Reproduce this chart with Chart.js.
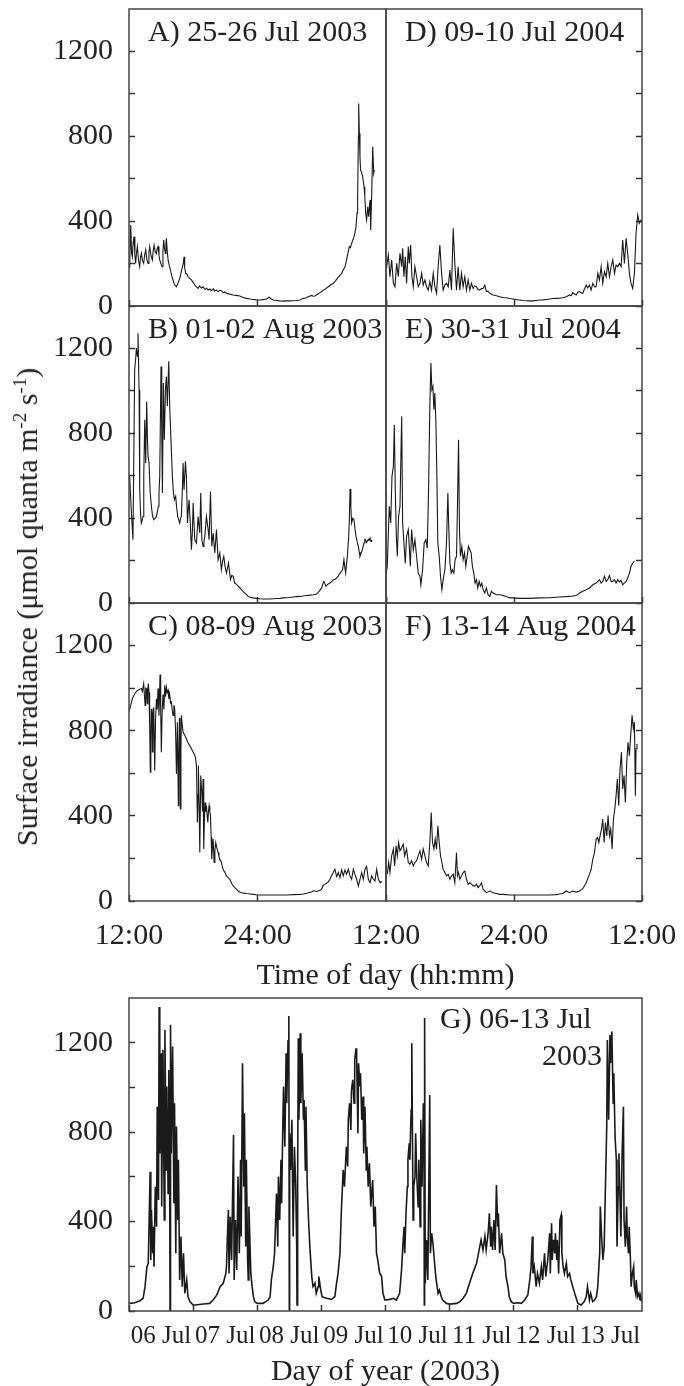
<!DOCTYPE html>
<html><head><meta charset="utf-8">
<script src="https://cdn.jsdelivr.net/npm/chart.js@4/dist/chart.umd.min.js"></script>
<style>
html,body{margin:0;padding:0;background:#fff;}
#wrap{position:relative;width:684px;height:1386px;overflow:hidden;font-family:"Liberation Serif","Times New Roman",serif;color:#222;}
canvas{position:absolute;left:-60px;top:-60px;}
.lbl{position:absolute;white-space:nowrap;font-size:30px;line-height:30px;}
.lbl sup{font-size:19px;line-height:0;vertical-align:0;position:relative;top:-11px;}
#ytitle{left:27px;top:607px;transform:translate(-50%,-50%) rotate(-90deg);}
</style></head><body>
<div id="wrap">
<canvas id="cA" width="804" height="1506"></canvas>
<canvas id="cB" width="804" height="1506"></canvas>
<canvas id="cC" width="804" height="1506"></canvas>
<canvas id="cD" width="804" height="1506"></canvas>
<canvas id="cE" width="804" height="1506"></canvas>
<canvas id="cF" width="804" height="1506"></canvas>
<canvas id="cG" width="804" height="1506"></canvas>
<div class="lbl" id="ytitle">Surface irradiance (μmol quanta m<sup>-2</sup> s<sup>-1</sup>)</div>
<div class="lbl" style="left:129px;width:513px;text-align:center;top:959px">Time of day (hh:mm)</div>
<div class="lbl" style="left:129px;width:513px;text-align:center;top:1355px">Day of year (2003)</div>
</div>
<script>
// ---------- DATA ----------
const panelTitles = ['A) 25-26 Jul 2003','B) 01-02 Aug 2003','C) 08-09 Aug 2003','D) 09-10 Jul 2004','E) 30-31 Jul 2004','F) 13-14 Aug 2004'];
const panelGTitle = ['G) 06-13 Jul','2003'];
const timeTickLabels = ['12:00','24:00','12:00'];
const dayLabels = ['06 Jul','07 Jul','08 Jul','09 Jul','10 Jul','11 Jul','12 Jul','13 Jul'];
const yLabelValues = [0,400,800,1200];

// [hours since 12:00, irradiance]
const seriesA = [[0.02,180],[0.06,185],[0.16,382],[0.24,250],[0.31,232],[0.39,300],[0.47,327],[0.55,240],[0.62,201],[0.7,250],[0.78,280],[0.9,210],[1.0,185],[1.08,230],[1.15,248],[1.26,215],[1.37,201],[1.46,240],[1.56,264],[1.66,220],[1.78,201],[1.86,250],[1.93,280],[2.05,240],[2.18,217],[2.26,260],[2.34,287],[2.45,255],[2.56,248],[2.63,270],[2.71,280],[2.8,240],[2.87,217],[2.98,200],[3.09,185],[3.17,260],[3.24,311],[3.32,270],[3.4,248],[3.45,290],[3.49,319],[3.57,260],[3.65,217],[3.76,190],[3.87,170],[4.0,140],[4.11,123],[4.25,100],[4.43,91],[4.6,110],[4.74,130],[4.88,160],[4.99,185],[5.07,200],[5.14,232],[5.2,180],[5.3,154],[5.42,150],[5.52,138],[5.65,130],[5.83,123],[6.0,110],[6.14,99],[6.3,90],[6.45,83],[6.6,95],[6.75,85],[6.92,91],[7.1,78],[7.25,84],[7.39,75],[7.55,80],[7.7,72],[7.86,82],[8.0,70],[8.15,76],[8.32,68],[8.48,74],[8.63,72],[8.8,62],[8.95,66],[9.1,60],[9.4,56],[9.73,52],[10.0,50],[10.35,47],[10.65,40],[10.97,36],[11.3,33],[11.6,31],[11.9,29],[12.22,28],[12.5,30],[12.84,33],[13.09,41],[13.25,34],[13.47,28],[13.8,26],[14.09,24],[14.4,23],[14.71,24],[15.0,24],[15.34,25],[15.65,26],[15.96,28],[16.27,36],[16.5,38],[16.74,44],[17.05,50],[17.2,46],[17.36,47],[17.6,55],[17.83,63],[18.0,68],[18.14,75],[18.35,80],[18.61,91],[18.85,100],[19.08,107],[19.3,120],[19.45,130],[19.65,142],[19.86,154],[20.0,170],[20.17,185],[20.32,217],[20.45,250],[20.57,280],[20.68,275],[20.79,295],[20.9,310],[21.01,327],[21.1,345],[21.2,374],[21.3,440],[21.35,500],[21.42,800],[21.45,955],[21.51,814],[21.57,700],[21.63,641],[21.72,630],[21.82,610],[21.95,562],[22.02,520],[22.1,437],[22.19,405],[22.29,468],[22.38,421],[22.45,470],[22.51,500],[22.57,358],[22.66,515],[22.76,751],[22.85,625],[22.91,641]];

const seriesB = [[0.02,600],[0.06,597],[0.2,450],[0.37,298],[0.45,700],[0.53,1100],[0.62,1150],[0.69,1202],[0.78,1163],[0.84,1272],[0.94,1005],[1.0,534],[1.08,420],[1.15,377],[1.23,390],[1.31,408],[1.38,600],[1.47,864],[1.56,660],[1.65,950],[1.72,780],[1.78,691],[1.87,660],[1.98,520],[2.09,456],[2.2,410],[2.31,393],[2.45,400],[2.56,408],[2.65,430],[2.74,456],[2.8,520],[2.87,597],[2.99,1115],[3.06,800],[3.12,518],[3.21,1037],[3.3,770],[3.4,1005],[3.49,1068],[3.58,927],[3.71,1139],[3.8,927],[3.93,754],[4.05,597],[4.15,520],[4.24,487],[4.36,503],[4.45,450],[4.55,408],[4.65,390],[4.74,377],[4.82,400],[4.89,408],[5.0,560],[5.05,660],[5.14,534],[5.27,668],[5.36,597],[5.46,377],[5.55,450],[5.61,487],[5.72,380],[5.83,251],[5.92,340],[5.99,471],[6.14,298],[6.3,283],[6.45,408],[6.55,360],[6.61,330],[6.7,518],[6.8,298],[6.92,267],[7.0,290],[7.08,314],[7.23,408],[7.39,346],[7.48,298],[7.61,526],[7.73,267],[7.86,330],[8.01,236],[8.17,346],[8.32,204],[8.48,236],[8.63,157],[8.75,200],[8.85,220],[8.98,170],[9.1,141],[9.29,188],[9.48,110],[9.6,130],[9.73,126],[9.88,94],[10.05,88],[10.19,79],[10.35,72],[10.5,63],[10.65,55],[10.82,47],[11.0,38],[11.13,31],[11.35,27],[11.6,24],[11.9,22],[12.22,20],[12.5,19],[12.84,19],[13.15,19],[13.47,20],[13.8,21],[14.09,22],[14.4,24],[14.71,25],[15.0,26],[15.34,28],[15.65,30],[15.96,31],[16.25,33],[16.58,35],[16.9,37],[17.21,39],[17.52,42],[17.75,55],[17.99,71],[18.1,90],[18.2,102],[18.3,90],[18.39,79],[18.55,88],[18.77,94],[18.9,100],[19.08,110],[19.25,112],[19.39,118],[19.55,128],[19.7,141],[19.85,150],[19.95,157],[20.07,204],[20.15,170],[20.23,141],[20.39,220],[20.5,300],[20.57,377],[20.64,537],[20.72,450],[20.79,377],[20.9,400],[21.01,393],[21.1,350],[21.2,314],[21.3,290],[21.42,267],[21.5,240],[21.57,220],[21.68,235],[21.79,251],[21.88,270],[21.95,283],[22.02,300],[22.1,298],[22.18,285],[22.26,291],[22.35,300],[22.43,295],[22.51,306],[22.6,290],[22.66,298]];

const seriesC = [[0.0,890],[0.12,911],[0.31,950],[0.53,974],[0.7,985],[0.84,990],[1.0,995],[1.15,998],[1.25,985],[1.37,1021],[1.45,960],[1.5,919],[1.56,1000],[1.62,998],[1.68,950],[1.71,927],[1.76,1000],[1.81,1021],[1.87,980],[1.93,820],[1.99,605],[2.04,800],[2.09,903],[2.14,850],[2.18,700],[2.24,880],[2.31,910],[2.36,760],[2.4,613],[2.48,850],[2.56,950],[2.63,900],[2.71,998],[2.8,870],[2.9,1064],[2.96,900],[3.02,699],[3.1,900],[3.18,970],[3.26,900],[3.34,1013],[3.42,960],[3.49,1005],[3.57,980],[3.65,990],[3.72,950],[3.8,970],[3.88,930],[3.96,935],[4.03,900],[4.11,872],[4.19,920],[4.27,900],[4.35,800],[4.43,597],[4.52,840],[4.61,448],[4.66,700],[4.71,860],[4.76,700],[4.8,432],[4.85,700],[4.89,872],[4.97,830],[5.05,793],[5.2,780],[5.36,762],[5.5,745],[5.67,730],[5.83,715],[5.99,699],[6.1,690],[6.2,676],[6.3,636],[6.39,369],[6.45,500],[6.48,636],[6.55,450],[6.61,228],[6.7,589],[6.8,511],[6.86,420],[6.92,573],[6.98,244],[7.05,400],[7.11,463],[7.17,420],[7.23,448],[7.3,400],[7.36,369],[7.42,420],[7.48,448],[7.55,420],[7.61,401],[7.67,300],[7.73,196],[7.8,260],[7.86,291],[7.95,181],[8.02,240],[8.1,275],[8.2,250],[8.32,228],[8.4,210],[8.48,196],[8.55,190],[8.63,181],[8.72,160],[8.79,149],[8.88,140],[8.95,134],[9.1,118],[9.25,110],[9.41,102],[9.52,90],[9.63,79],[9.75,70],[9.88,63],[10.05,55],[10.19,47],[10.35,42],[10.5,39],[10.75,37],[10.97,35],[11.3,33],[11.6,31],[11.9,29],[12.22,28],[12.84,28],[13.47,28],[14.09,28],[14.71,28],[15.34,30],[15.96,31],[16.3,33],[16.58,36],[16.85,40],[17.05,42],[17.2,48],[17.36,47],[17.55,45],[17.67,47],[17.85,50],[17.99,55],[18.14,74],[18.3,78],[18.45,83],[18.6,90],[18.77,102],[18.92,120],[19.08,134],[19.23,149],[19.39,115],[19.55,134],[19.7,110],[19.86,146],[20.01,118],[20.17,146],[20.32,125],[20.48,149],[20.64,118],[20.79,102],[20.95,149],[21.1,125],[21.26,102],[21.42,71],[21.57,102],[21.73,134],[21.88,102],[22.04,149],[22.19,162],[22.35,102],[22.51,86],[22.66,118],[22.82,102],[22.97,94],[23.13,149],[23.29,102],[23.44,86],[23.53,94]];

const seriesD = [[0.0,190],[0.06,185],[0.22,240],[0.37,138],[0.53,217],[0.69,107],[0.84,91],[1.0,201],[1.15,138],[1.31,248],[1.47,185],[1.56,272],[1.68,138],[1.81,232],[1.93,107],[2.09,280],[2.18,201],[2.31,287],[2.43,138],[2.56,91],[2.71,185],[2.87,138],[3.02,91],[3.18,107],[3.34,154],[3.49,99],[3.65,123],[3.8,91],[3.96,75],[4.11,115],[4.27,75],[4.43,154],[4.58,91],[4.74,60],[4.89,185],[5.05,287],[5.21,154],[5.36,75],[5.52,99],[5.67,107],[5.83,91],[5.99,170],[6.14,75],[6.3,366],[6.45,201],[6.61,75],[6.76,185],[6.92,75],[7.08,154],[7.23,91],[7.39,138],[7.54,75],[7.7,123],[7.86,75],[8.01,107],[8.17,83],[8.3,95],[8.48,91],[8.6,80],[8.79,75],[8.95,82],[9.1,83],[9.26,99],[9.41,68],[9.55,70],[9.73,60],[10.04,52],[10.35,48],[10.66,44],[10.97,40],[11.28,39],[11.6,35],[11.91,33],[12.2,30],[12.53,28],[12.84,26],[13.15,25],[13.45,24],[13.78,24],[14.1,26],[14.4,28],[14.7,29],[15.02,31],[15.35,33],[15.65,35],[16.0,36],[16.3,37],[16.58,39],[16.9,44],[17.21,52],[17.35,48],[17.52,63],[17.65,58],[17.83,52],[17.98,65],[18.14,68],[18.3,62],[18.45,60],[18.6,80],[18.77,99],[18.9,85],[19.08,99],[19.23,75],[19.39,107],[19.55,90],[19.7,91],[19.86,154],[20.01,123],[20.17,185],[20.32,107],[20.48,162],[20.64,138],[20.79,201],[20.95,138],[21.1,185],[21.26,217],[21.42,154],[21.57,193],[21.73,185],[21.88,201],[22.04,185],[22.19,311],[22.35,201],[22.51,319],[22.66,248],[22.82,154],[22.97,107],[23.13,83],[23.29,154],[23.44,342],[23.6,429],[23.75,390],[23.91,405],[24.0,400]];

const seriesE = [[0.0,134],[0.12,173],[0.2,300],[0.31,456],[0.44,377],[0.56,597],[0.69,644],[0.78,840],[0.87,534],[0.97,314],[1.06,220],[1.18,408],[1.31,456],[1.47,880],[1.56,377],[1.68,283],[1.81,188],[1.93,314],[2.09,346],[2.18,267],[2.28,173],[2.4,346],[2.56,251],[2.71,298],[2.87,220],[3.02,141],[3.18,126],[3.27,86],[3.43,157],[3.58,283],[3.74,298],[3.87,259],[3.99,534],[4.11,927],[4.21,1131],[4.3,1005],[4.4,1021],[4.49,911],[4.58,990],[4.68,848],[4.77,597],[4.86,283],[4.99,220],[5.11,126],[5.24,63],[5.36,110],[5.52,157],[5.67,283],[5.8,518],[5.89,346],[5.99,188],[6.11,141],[6.23,157],[6.36,141],[6.48,204],[6.61,220],[6.7,456],[6.8,770],[6.89,346],[6.98,220],[7.11,267],[7.23,204],[7.36,236],[7.48,173],[7.61,220],[7.73,267],[7.86,251],[7.98,236],[8.1,173],[8.23,141],[8.35,94],[8.48,110],[8.6,71],[8.73,102],[8.85,79],[8.98,94],[9.1,63],[9.26,47],[9.41,71],[9.57,39],[9.73,31],[9.88,55],[10.04,47],[10.35,39],[10.66,39],[10.97,35],[11.28,31],[11.6,24],[11.91,24],[12.53,22],[13.47,22],[14.4,24],[15.34,25],[16.27,28],[17.21,31],[17.83,35],[18.14,47],[18.45,55],[18.77,63],[19.08,71],[19.39,86],[19.7,94],[20.01,110],[20.17,94],[20.32,102],[20.48,126],[20.64,102],[20.79,110],[20.95,130],[21.1,102],[21.26,102],[21.42,110],[21.57,94],[21.73,110],[21.88,99],[22.04,107],[22.19,86],[22.35,94],[22.51,102],[22.66,118],[22.82,141],[22.97,173],[23.13,188],[23.29,196]];

const seriesF = [[0.12,126],[0.25,181],[0.37,134],[0.53,212],[0.69,244],[0.81,165],[0.94,259],[1.06,212],[1.18,275],[1.31,236],[1.47,251],[1.62,267],[1.75,212],[1.93,244],[2.09,181],[2.24,173],[2.4,189],[2.56,165],[2.71,181],[2.87,189],[3.02,212],[3.18,236],[3.34,196],[3.49,244],[3.65,212],[3.8,181],[3.96,165],[4.11,275],[4.24,416],[4.36,275],[4.49,244],[4.61,291],[4.74,244],[4.86,353],[4.99,275],[5.11,212],[5.24,181],[5.36,149],[5.52,134],[5.67,118],[5.83,126],[5.99,102],[6.14,118],[6.3,126],[6.45,86],[6.61,228],[6.7,118],[6.8,134],[6.92,102],[7.08,118],[7.23,134],[7.39,141],[7.54,102],[7.7,79],[7.86,86],[8.01,79],[8.17,71],[8.32,71],[8.48,79],[8.63,63],[8.79,71],[8.95,86],[9.1,55],[9.26,47],[9.41,39],[9.73,47],[10.04,39],[10.35,35],[10.66,31],[10.97,31],[11.6,28],[12.53,28],[13.47,28],[14.4,28],[15.34,28],[15.96,30],[16.27,33],[16.58,35],[16.9,47],[17.21,39],[17.52,47],[17.83,42],[18.14,47],[18.45,58],[18.77,86],[19.08,126],[19.23,149],[19.39,196],[19.55,228],[19.7,291],[19.83,298],[19.95,275],[20.07,306],[20.2,338],[20.32,385],[20.45,275],[20.57,369],[20.7,306],[20.82,401],[20.95,306],[21.07,338],[21.2,244],[21.32,385],[21.45,432],[21.57,495],[21.69,573],[21.82,448],[21.94,620],[22.07,699],[22.19,526],[22.32,589],[22.44,463],[22.57,652],[22.69,746],[22.82,683],[22.94,778],[23.07,872],[23.19,809],[23.29,840],[23.38,495],[23.44,715],[23.53,738]];

// [days since 06 Jul 00:00, irradiance]
const seriesG = [[0.0,36],[0.02,34],[0.09,37],[0.17,46],[0.22,57],[0.25,109],[0.28,198],[0.3,213],[0.33,623],[0.34,228],[0.35,452],[0.37,258],[0.38,377],[0.39,198],[0.41,556],[0.43,377],[0.44,914],[0.46,497],[0.47,1360],[0.48,705],[0.5,1153],[0.51,467],[0.53,1168],[0.55,407],[0.56,1257],[0.58,631],[0.59,1004],[0.61,526],[0.62,1078],[0.635,600],[0.64,0],[0.645,700],[0.65,1280],[0.66,705],[0.68,1183],[0.7,482],[0.71,929],[0.73,258],[0.74,825],[0.76,407],[0.77,676],[0.79,139],[0.81,333],[0.83,109],[0.85,258],[0.87,79],[0.9,139],[0.92,64],[0.95,42],[1.0,27],[1.03,27],[1.16,31],[1.26,34],[1.31,49],[1.37,72],[1.42,109],[1.47,124],[1.51,168],[1.52,198],[1.54,377],[1.55,452],[1.56,168],[1.58,422],[1.6,228],[1.63,787],[1.64,139],[1.66,407],[1.68,183],[1.7,601],[1.72,258],[1.74,676],[1.75,333],[1.77,1108],[1.79,556],[1.8,884],[1.82,288],[1.83,676],[1.85,228],[1.86,139],[1.87,467],[1.9,168],[1.92,109],[1.94,64],[1.96,42],[2.0,34],[2.09,34],[2.17,49],[2.2,64],[2.22,139],[2.25,198],[2.27,258],[2.3,526],[2.32,288],[2.33,601],[2.35,407],[2.37,676],[2.38,482],[2.4,855],[2.41,1004],[2.43,735],[2.45,1153],[2.46,929],[2.48,1212],[2.49,1078],[2.495,1320],[2.5,0],[2.505,795],[2.52,631],[2.54,855],[2.56,333],[2.58,735],[2.6,556],[2.615,300],[2.62,27],[2.63,600],[2.64,1220],[2.65,855],[2.67,1242],[2.68,929],[2.7,1153],[2.72,855],[2.73,944],[2.75,631],[2.76,914],[2.78,556],[2.8,407],[2.82,288],[2.85,154],[2.87,109],[2.9,124],[2.92,79],[2.95,109],[2.96,154],[2.99,94],[3.01,64],[3.08,57],[3.16,52],[3.21,64],[3.23,109],[3.26,168],[3.29,258],[3.31,437],[3.34,631],[3.36,556],[3.39,735],[3.41,646],[3.42,855],[3.44,929],[3.46,810],[3.47,989],[3.49,1034],[3.51,929],[3.52,1123],[3.54,1175],[3.55,1138],[3.57,795],[3.58,1108],[3.6,1004],[3.61,1063],[3.63,855],[3.65,959],[3.66,705],[3.68,914],[3.7,631],[3.71,735],[3.73,556],[3.75,661],[3.77,467],[3.8,586],[3.82,377],[3.84,467],[3.86,258],[3.88,228],[3.91,168],[3.94,154],[3.96,79],[3.99,49],[4.01,49],[4.07,52],[4.12,57],[4.17,49],[4.22,79],[4.25,183],[4.27,288],[4.29,377],[4.3,258],[4.32,437],[4.34,556],[4.35,676],[4.37,750],[4.38,676],[4.4,899],[4.41,1198],[4.43,407],[4.44,556],[4.46,601],[4.47,795],[4.49,586],[4.51,467],[4.52,676],[4.54,377],[4.55,855],[4.57,556],[4.59,929],[4.6,855],[4.605,27],[4.61,1310],[4.62,124],[4.64,318],[4.66,139],[4.69,966],[4.7,258],[4.72,348],[4.74,303],[4.77,198],[4.79,139],[4.82,79],[4.84,94],[4.87,64],[4.89,49],[4.92,42],[4.95,34],[5.0,31],[5.11,34],[5.16,42],[5.21,57],[5.26,79],[5.31,124],[5.36,168],[5.42,213],[5.47,288],[5.49,318],[5.52,273],[5.55,333],[5.57,273],[5.6,348],[5.62,437],[5.64,288],[5.65,377],[5.67,273],[5.69,407],[5.71,273],[5.73,564],[5.75,377],[5.76,437],[5.78,258],[5.81,348],[5.83,258],[5.86,228],[5.88,154],[5.91,109],[5.93,64],[5.96,42],[6.0,34],[6.06,37],[6.12,34],[6.17,49],[6.22,72],[6.25,139],[6.27,198],[6.29,333],[6.3,168],[6.32,198],[6.35,109],[6.37,168],[6.4,124],[6.43,198],[6.45,139],[6.48,258],[6.5,154],[6.53,228],[6.56,348],[6.57,168],[6.59,392],[6.6,228],[6.62,318],[6.64,258],[6.65,348],[6.67,228],[6.68,318],[6.7,168],[6.72,407],[6.74,429],[6.75,258],[6.77,198],[6.79,168],[6.82,213],[6.84,154],[6.87,168],[6.89,139],[6.92,109],[6.95,79],[7.0,34],[7.05,27],[7.1,42],[7.13,64],[7.15,109],[7.18,49],[7.2,79],[7.23,42],[7.26,49],[7.29,64],[7.31,109],[7.34,258],[7.35,467],[7.37,333],[7.39,228],[7.41,288],[7.43,556],[7.45,825],[7.46,1212],[7.48,855],[7.5,1235],[7.51,1108],[7.53,1250],[7.55,929],[7.56,1063],[7.58,780],[7.6,676],[7.61,288],[7.63,556],[7.64,705],[7.66,467],[7.67,333],[7.69,705],[7.71,914],[7.72,407],[7.74,288],[7.76,467],[7.77,333],[7.79,258],[7.8,377],[7.82,228],[7.83,109],[7.85,168],[7.87,198],[7.88,109],[7.9,79],[7.91,139],[7.93,64],[7.95,79],[7.97,49],[7.98,64],[8.0,42]];

// ---------- RENDER ----------
const FONT = "'Liberation Serif','Times New Roman',serif";
const INK = '#222';
const OFF = 60;                 // canvases are shifted by -OFF to leave room around the page
const CW = 684 + 2 * OFF, CH = 1386 + 2 * OFF;

const framePlugin = {
  id: 'frame',
  afterDraw(chart, args, opts) {
    const {ctx, chartArea: a} = chart;
    ctx.save();
    ctx.strokeStyle = '#444';
    ctx.lineWidth = 1.5;
    ctx.strokeRect(a.left, a.top, a.right - a.left, a.bottom - a.top);
    ctx.fillStyle = INK;
    ctx.font = '30px ' + FONT;
    ctx.textBaseline = 'alphabetic';
    ctx.textAlign = 'left';
    (opts.lines || []).forEach(l => ctx.fillText(l.text, a.left + l.dx, a.top + l.dy));
    ctx.restore();
  }
};

function yCallback(v) {
  if (v >= 1400) return null;
  return yLabelValues.includes(v) ? String(v) : '';
}

function makePanel(id, rect, series, o) {
  const l = rect.l + OFF, r = rect.r + OFF, t = rect.t + OFF, b = rect.b + OFF;
  const gridOpts = {drawOnChartArea: false, drawTicks: true, tickLength: -6, tickColor: '#333', tickWidth: 1.5};
  const xH = o.xLabels ? CH - b : 0;
  const yW = o.yLeft ? l : 0;
  new Chart(document.getElementById(id), {
    type: 'line',
    data: {datasets: [{
      data: series.map(p => ({x: p[0], y: p[1]})),
      borderColor: '#1a1a1a', borderWidth: o.lw || 1.1, pointRadius: 0, tension: 0, fill: false
    }]},
    options: {
      responsive: false, animation: false, devicePixelRatio: 1,
      layout: {autoPadding: false, padding: {
        left: o.yLeft ? 0 : l, top: t, right: CW - r, bottom: o.xLabels ? 0 : CH - b}},
      plugins: {legend: {display: false}, tooltip: {enabled: false}, frame: {lines: o.titles}},
      scales: {
        x: {
          type: 'linear', position: 'bottom', min: 0, max: o.xMax,
          afterFit: s => { s.height = xH; },
          ticks: {stepSize: o.xStep, display: o.xLabels, callback: o.xCallback, padding: o.xPad || 23,
                  labelOffset: o.labelOffset || 0, autoSkip: false, maxRotation: 0, minRotation: 0,
                  font: {family: FONT, size: o.xFont || 30}, color: INK},
          grid: gridOpts, border: {display: false}
        },
        y: {
          type: 'linear', position: o.yLeft ? 'left' : 'right', min: 0, max: 1400,
          afterFit: s => { s.width = yW; },
          ticks: {stepSize: 200, display: o.yLeft, callback: yCallback, padding: 22,
                  font: {family: FONT, size: 30}, color: INK},
          grid: gridOpts, border: {display: false}
        }
      }
    },
    plugins: [framePlugin]
  });
}

const L = {l: 129, r: 386}, R = {l: 386, r: 642};
const rows = [{t: 9, b: 306}, {t: 306, b: 603}, {t: 603, b: 901}];
const titleAt = t => [{text: t, dx: 19, dy: 32}];
const timeCb = (v, i) => timeTickLabels[i];
const timeCbRight = (v, i) => (i === 0 ? null : timeTickLabels[i]);

makePanel('cA', {l: L.l, r: L.r, t: rows[0].t, b: rows[0].b}, seriesA, {titles: titleAt(panelTitles[0]), xMax: 24, xStep: 12, xLabels: false, xCallback: timeCb, yLeft: true});
makePanel('cB', {l: L.l, r: L.r, t: rows[1].t, b: rows[1].b}, seriesB, {titles: titleAt(panelTitles[1]), xMax: 24, xStep: 12, xLabels: false, xCallback: timeCb, yLeft: true});
makePanel('cC', {l: L.l, r: L.r, t: rows[2].t, b: rows[2].b}, seriesC, {titles: titleAt(panelTitles[2]), xMax: 24, xStep: 12, xLabels: true, xCallback: timeCb, yLeft: true});
makePanel('cD', {l: R.l, r: R.r, t: rows[0].t, b: rows[0].b}, seriesD, {titles: titleAt(panelTitles[3]), xMax: 24, xStep: 12, xLabels: false, xCallback: timeCb, yLeft: false});
makePanel('cE', {l: R.l, r: R.r, t: rows[1].t, b: rows[1].b}, seriesE, {titles: titleAt(panelTitles[4]), xMax: 24, xStep: 12, xLabels: false, xCallback: timeCb, yLeft: false});
makePanel('cF', {l: R.l, r: R.r, t: rows[2].t, b: rows[2].b}, seriesF, {titles: titleAt(panelTitles[5]), xMax: 24, xStep: 12, xLabels: true, xCallback: timeCbRight, yLeft: false});
makePanel('cG', {l: 129, r: 642, t: 998, b: 1311}, seriesG, {
  titles: [{text: panelGTitle[0], dx: 311, dy: 30}, {text: panelGTitle[1], dx: 413, dy: 67}],
  xMax: 8, xStep: 1, xLabels: true, xFont: 25, xPad: 16.5, labelOffset: 32, lw: 1.6,
  xCallback: (v, i) => (i < dayLabels.length ? dayLabels[i] : null), yLeft: true
});
</script>
</body></html>
